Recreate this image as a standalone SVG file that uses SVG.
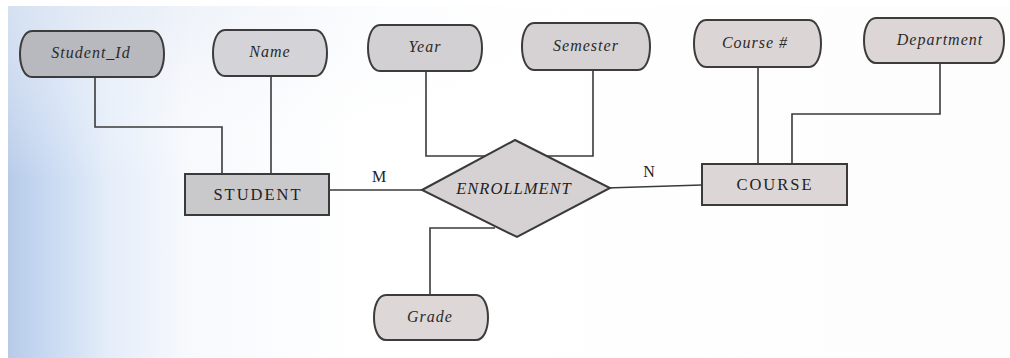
<svg xmlns="http://www.w3.org/2000/svg" width="1010" height="358" viewBox="0 0 1010 358">
  <defs>
    <linearGradient id="paper" x1="0" y1="0" x2="1" y2="0">
      <stop offset="0" stop-color="#b7cbe9"/>
      <stop offset="0.04" stop-color="#c8d9f2"/>
      <stop offset="0.10" stop-color="#e4edf9"/>
      <stop offset="0.18" stop-color="#f7f9fd"/>
      <stop offset="0.35" stop-color="#ffffff"/>
      <stop offset="1" stop-color="#fdfdfd"/>
    </linearGradient>
    <radialGradient id="topHaze" cx="0.1" cy="0" r="0.5">
      <stop offset="0" stop-color="#e6ecf5" stop-opacity="0.7"/>
      <stop offset="1" stop-color="#ffffff" stop-opacity="0"/>
    </radialGradient>
  </defs>
  <style>
    .wire { fill: none; stroke: #3a3a3a; stroke-width: 1.6; }
    .attr { stroke: #3c3c3c; stroke-width: 2; }
    .entity { stroke: #3a3a3a; stroke-width: 2; }
    .attr-label { font-family: "Liberation Serif", "Times New Roman", serif; font-style: italic; font-size: 16px; fill: #2a2a2a; text-anchor: middle; letter-spacing: 1px; }
    .entity-label { font-family: "Liberation Serif", "Times New Roman", serif; font-size: 16.5px; fill: #222; text-anchor: middle; letter-spacing: 2px; }
    .rel-label { font-family: "Liberation Serif", "Times New Roman", serif; font-style: italic; font-size: 16.5px; fill: #222; text-anchor: middle; letter-spacing: 1px; }
    .card { font-family: "Liberation Serif", "Times New Roman", serif; font-size: 16px; fill: #222; text-anchor: middle; }
  </style>

  <!-- page background -->
  <rect x="0" y="0" width="1010" height="358" fill="#ffffff"/>
  <rect x="8" y="6" width="1002" height="352" fill="url(#paper)"/>
  <rect x="8" y="6" width="1002" height="352" fill="url(#topHaze)"/>

  <!-- connectors -->
  <g id="connectors">
    <polyline class="wire" points="95,77 95,127 222,127 222,174"/>
    <polyline class="wire" points="271,76 271,174"/>
    <polyline class="wire" points="426,71 426,156 593,156 593,70"/>
    <polyline class="wire" points="758,67 758,164"/>
    <polyline class="wire" points="940,63 940,114 792,114 792,164"/>
    <polyline class="wire" points="329,190 425,190"/>
    <polyline class="wire" points="606,188 702,185"/>
    <polyline class="wire" points="495,228 430,228 430,296"/>
  </g>

  <!-- attributes -->
  <g id="attr-student-id">
    <path class="attr" fill="#b8b9be" d="M32,31 H152 C168,31 168,77 152,77 H32 C16,77 16,31 32,31 Z"/>
    <text class="attr-label" x="91" y="58">Student_Id</text>
  </g>
  <g id="attr-name">
    <path class="attr" fill="#d4d4d8" d="M225,30 H315 C331,30 331,76 315,76 H225 C209,76 209,30 225,30 Z"/>
    <text class="attr-label" x="270" y="57">Name</text>
  </g>
  <g id="attr-year">
    <path class="attr" fill="#d3d0d3" d="M380,25 H470 C486,25 486,71 470,71 H380 C364,71 364,25 380,25 Z"/>
    <text class="attr-label" x="425" y="52">Year</text>
  </g>
  <g id="attr-semester">
    <path class="attr" fill="#d6d2d3" d="M534,23 H638 C654,23 654,70 638,70 H534 C518,70 518,23 534,23 Z"/>
    <text class="attr-label" x="586" y="51">Semester</text>
  </g>
  <g id="attr-course-no">
    <path class="attr" fill="#dcd5d6" d="M706,20 H809 C825,20 825,67 809,67 H706 C690,67 690,20 706,20 Z"/>
    <text class="attr-label" x="755" y="48">Course #</text>
  </g>
  <g id="attr-department">
    <path class="attr" fill="#ddd6d7" d="M876,18 H992 C1008,18 1008,63 992,63 H876 C860,63 860,18 876,18 Z"/>
    <text class="attr-label" x="940" y="45">Department</text>
  </g>
  <g id="attr-grade">
    <path class="attr" fill="#ddd7d8" d="M386,295 H476 C492,295 492,340 476,340 H386 C370,340 370,295 386,295 Z"/>
    <text class="attr-label" x="430" y="322">Grade</text>
  </g>

  <!-- entities -->
  <g id="entity-student">
    <rect class="entity" x="185" y="174" width="144" height="41" fill="#c9c9cb"/>
    <text class="entity-label" x="258" y="200">STUDENT</text>
  </g>
  <g id="entity-course">
    <rect class="entity" x="702" y="164" width="145" height="41" fill="#ddd6d7"/>
    <text class="entity-label" x="775" y="190">COURSE</text>
  </g>

  <!-- relationship -->
  <g id="rel-enrollment">
    <polygon class="entity" fill="#d6d2d3" points="422,190 515,140 610,188 517,237"/>
    <text class="rel-label" x="514" y="194">ENROLLMENT</text>
  </g>

  <!-- cardinalities -->
  <g id="cardinality">
    <text class="card" x="379" y="182">M</text>
    <text class="card" x="649" y="177">N</text>
  </g>
</svg>
